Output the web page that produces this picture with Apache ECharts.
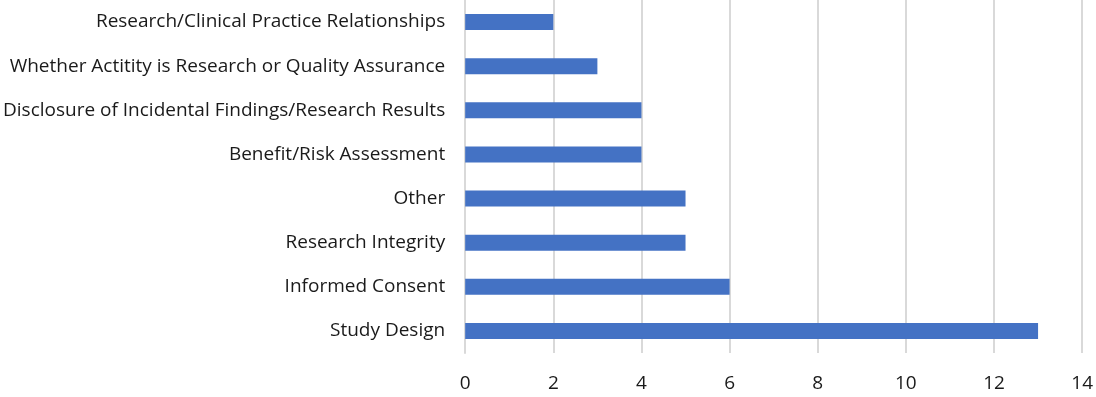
<!DOCTYPE html>
<html>
<head>
<meta charset="utf-8">
<script src="https://cdn.jsdelivr.net/npm/echarts@6/dist/echarts.min.js"></script>
<style>
  html, body { margin: 0; padding: 0; background: #fff; }
  #main { width: 1096px; height: 397px; }
</style>
</head>
<body>
<div id="main"></div>
<script>
// categories listed bottom to top (ECharts category y axis starts at bottom)
const categories = [
  'Study Design',
  'Informed Consent',
  'Research Integrity',
  'Other',
  'Benefit/Risk Assessment',
  'Disclosure of Incidental Findings/Research Results',
  'Whether Actitity is Research or Quality Assurance',
  'Research/Clinical Practice Relationships'
]
const counts = [13, 6, 5, 5, 4, 4, 3, 2]

const myChart = echarts.init(document.getElementById('main'))
const font = 'Open Sans, Noto Sans, sans-serif'

const option = {
  animation: false,
  grid: {
    left: 465,
    right: 12,
    top: 0,
    bottom: 44
  },
  xAxis: {
    type: 'value',
    min: 0,
    max: 14,
    interval: 2,
    axisLine: { show: false },
    axisTick: { show: false },
    axisLabel: {
      color: '#1a1a1a',
      fontFamily: font,
      fontSize: 19,
      margin: 21
    },
    splitLine: {
      show: true,
      lineStyle: { color: '#d9d9d9', width: 2 }
    }
  },
  yAxis: {
    type: 'category',
    data: categories,
    axisLine: { show: true, lineStyle: { color: '#d9d9d9', width: 2 } },
    axisTick: { show: false },
    axisLabel: {
      color: '#1a1a1a',
      fontFamily: font,
      fontSize: 19,
      margin: 20
    }
  },
  series: [
    {
      type: 'bar',
      data: counts,
      barWidth: 16,
      itemStyle: { color: '#4472C4' }
    }
  ]
}

myChart.setOption(option)
</script>
</body>
</html>
